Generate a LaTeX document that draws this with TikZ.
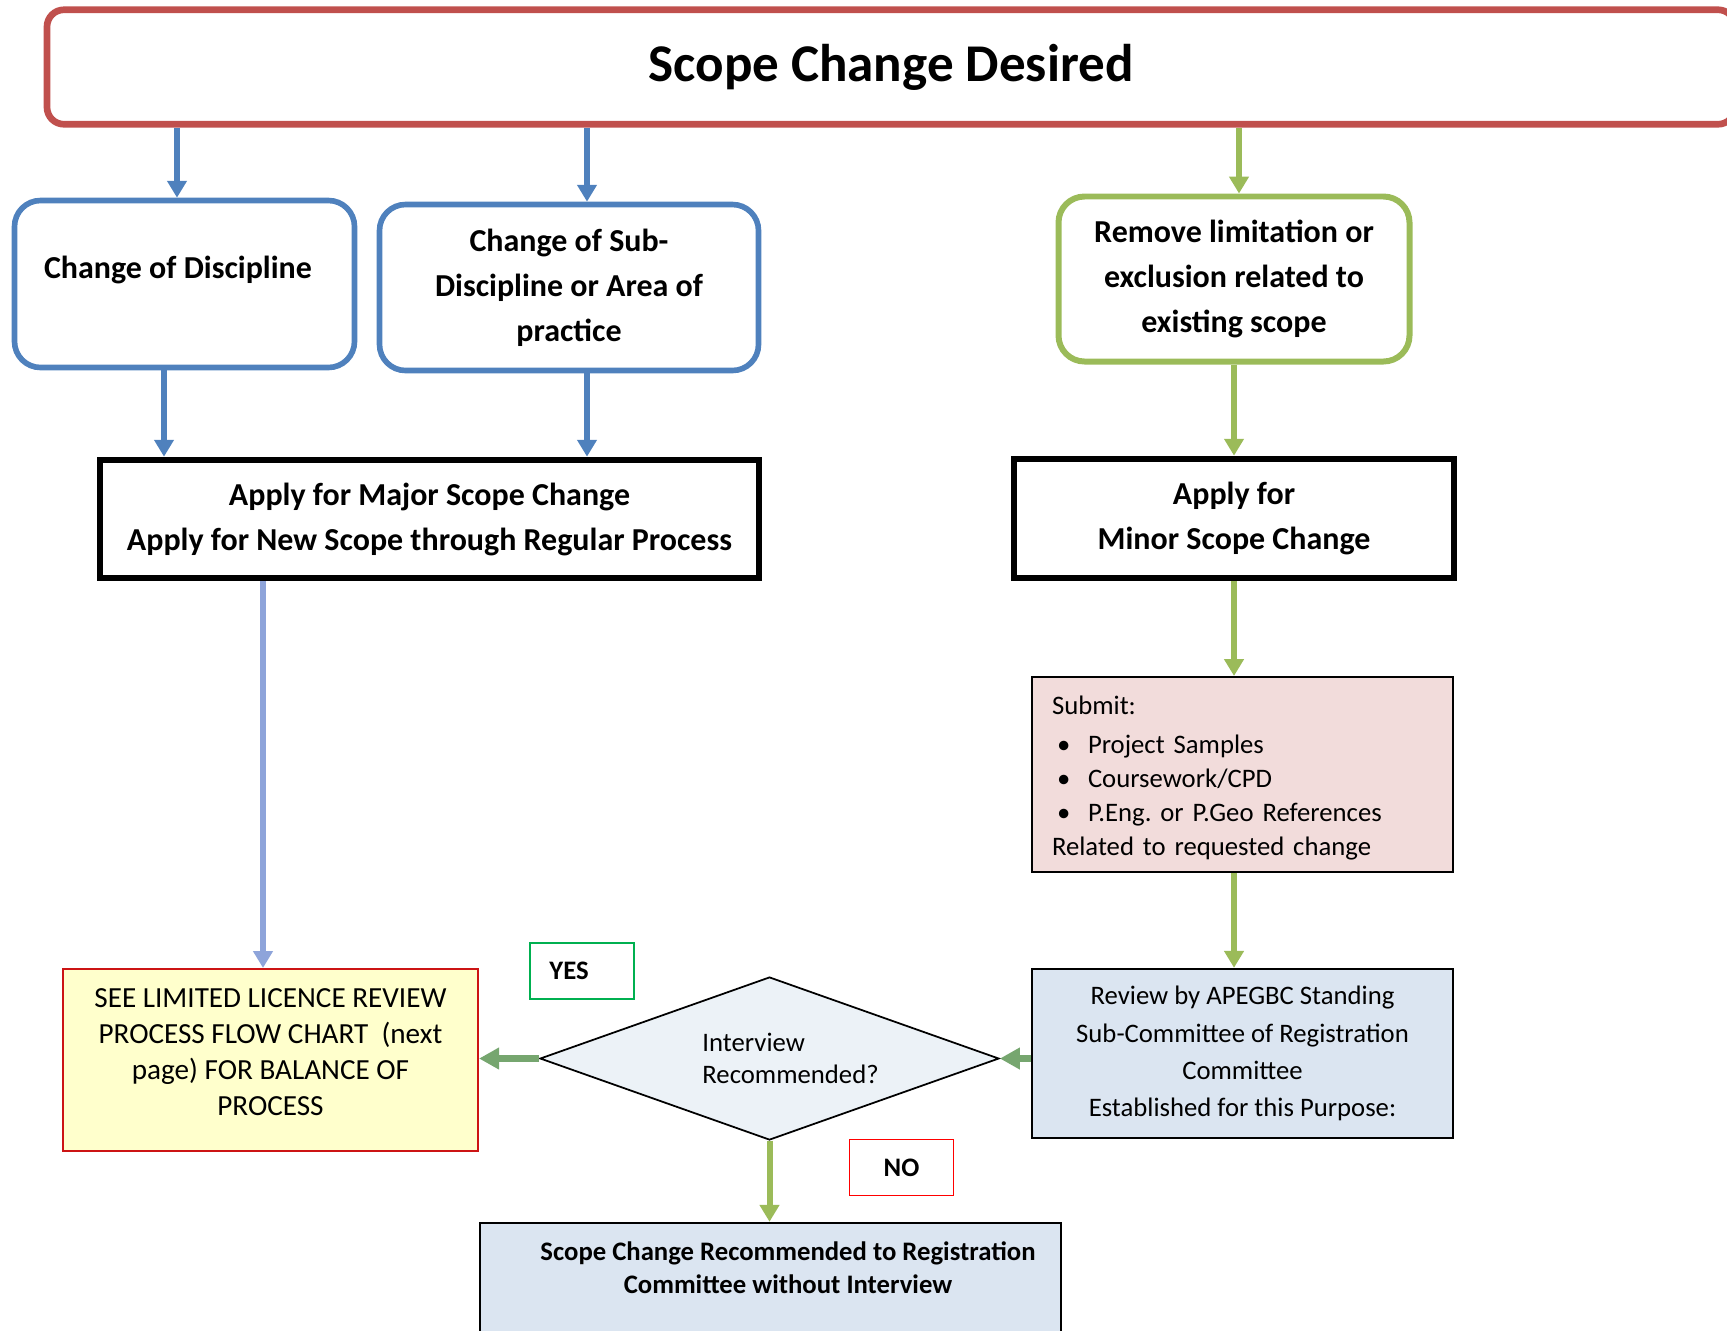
\documentclass[tikz,border=0pt]{standalone}
\usepackage{fontspec}
\setmainfont{Carlito}
\usepackage{tikz}
\usetikzlibrary{arrows.meta, positioning, calc, shapes.geometric}
\usepackage{xcolor}
\definecolor{titlered}{RGB}{192,80,77}
\definecolor{pathblue}{RGB}{79,129,189}
\definecolor{pathgreen}{RGB}{155,187,89}
\definecolor{majorblue}{RGB}{142,164,218}
\definecolor{decisiongreen}{RGB}{118,166,111}
\definecolor{submitpink}{RGB}{242,220,219}
\definecolor{reviewblue}{RGB}{219,229,241}
\definecolor{noteyellow}{RGB}{255,255,204}
\definecolor{noteborder}{RGB}{204,20,20}
\definecolor{questionfill}{RGB}{236,242,247}
\definecolor{yesgreen}{RGB}{0,176,80}
\newcommand{\submititem}[1]{\makebox[0.36cm][l]{\hspace{0.05cm}\textbullet}#1}
\frenchspacing

\begin{document}
\begin{tikzpicture}[
  bigfont/.style={font=\fontsize{9.1}{12.8}\selectfont\bfseries},
  roundbox/.style={draw, line width=1.6pt, rounded corners=0.26cm, align=center, bigfont},
  applybox/.style={draw=black, line width=1.9pt, align=center, bigfont},
  infobox/.style={draw=black, line width=0.7pt},
  flow/.style={line width=1.7pt, -{Triangle[length=4.8pt,width=5.4pt]}},
  thickflow/.style={decisiongreen, line width=2pt, -{Triangle[length=5.7pt,width=5.9pt]}},
  tagbox/.style={draw, line width=0.5pt, minimum width=1.04cm, minimum height=0.56cm, font=\fontsize{7.6}{9}\selectfont\bfseries}
]
  \useasboundingbox (0,0) rectangle (17.27,-13.30);
  \clip (0,0) rectangle (17.27,-13.30);

  % top row
  \node[draw=titlered, line width=1.9pt, rounded corners=0.17cm, minimum width=16.88cm, minimum height=1.145cm,
        font=\fontsize{15.1}{18}\selectfont\bfseries] (desired) at (8.91,-0.67) {Scope Change Desired};

  \node[roundbox, draw=pathblue, minimum width=3.40cm, minimum height=1.67cm, text depth=9.7pt] (discipline) at (1.845,-2.84) {Change of Discipline\hspace*{0.13cm}};
  \node[roundbox, draw=pathblue, minimum width=3.79cm, minimum height=1.66cm] (subdiscipline) at (5.69,-2.875) {Change of Sub-\\Discipline or Area of\\practice};
  \node[roundbox, draw=pathgreen, line width=1.7pt, minimum width=3.51cm, minimum height=1.65cm] (remove) at (12.34,-2.79) {Remove limitation or\\exclusion related to\\existing scope};

  \node[applybox, minimum width=6.59cm, minimum height=1.18cm] (major) at (4.295,-5.19) {Apply for Major Scope Change\\Apply for New Scope through Regular Process};
  \node[applybox, minimum width=4.40cm, minimum height=1.19cm] (minor) at (12.34,-5.185) {Apply for\\Minor Scope Change};

  % minor path
  \node[infobox, fill=submitpink, minimum width=4.21cm, minimum height=1.93cm, text width=3.81cm, align=left, text height=7.2pt,
        font=\fontsize{7.6}{9.7}\selectfont] (submit) at (12.425,-7.745)
       {Submit:\\[1.4pt] \submititem{Project Samples}\\ \submititem{Coursework/CPD}\\ \submititem{P.Eng. or P.Geo References}\\Related to requested change};
  \node[infobox, fill=reviewblue, minimum width=4.21cm, minimum height=1.69cm, align=center,
        font=\fontsize{7.6}{10.6}\selectfont] (review) at (12.425,-10.535)
       {Review by APEGBC Standing\\Sub-Committee of Registration\\Committee\\Established for this Purpose:};

  \node[diamond, aspect=2.816, draw=black, line width=0.5pt, fill=questionfill, minimum width=4.59cm, minimum height=1.63cm,
        inner sep=0pt, align=left, font=\fontsize{7.6}{9.1}\selectfont] (interview) at (7.695,-10.585)
       {\hspace*{0.42cm}Interview\\\hspace*{0.42cm}Recommended?};

  \node[infobox, draw=noteborder, fill=noteyellow, line width=0.6pt, minimum width=4.15cm, minimum height=1.82cm, align=center,
        text depth=4.6pt, font=\fontsize{8.3}{10.2}\selectfont] (limited) at (2.705,-10.60)
       {SEE LIMITED LICENCE REVIEW\\PROCESS FLOW CHART\ \ (next\\page) FOR BALANCE OF\\PROCESS};

  \node[tagbox, draw=yesgreen] (yes) at (5.82,-9.71) {YES\hspace*{0.26cm}};
  \node[tagbox, draw=red] (no) at (9.015,-11.675) {NO};

  \node[infobox, fill=reviewblue, minimum width=5.81cm, minimum height=1.77cm] (endbox) at (7.705,-13.115) {};
  \node[align=center, font=\fontsize{7.6}{9.4}\selectfont\bfseries] (endtext) at (7.88,-12.675)
       {Scope Change Recommended to Registration\\Committee without Interview};

  % connectors
  \draw[flow, pathblue] (desired.south -| 1.77,0) -- (discipline.north -| 1.77,0);
  \draw[flow, pathblue] (desired.south -| 5.87,0) -- (subdiscipline.north -| 5.87,0);
  \draw[flow, pathgreen] (desired.south -| 12.39,0) -- (remove.north -| 12.39,0);
  \draw[flow, pathblue] (discipline.south -| 1.64,0) -- (major.north -| 1.64,0);
  \draw[flow, pathblue] (subdiscipline.south -| 5.87,0) -- (major.north -| 5.87,0);
  \draw[flow, pathgreen] (remove.south) -- (minor.north);
  \draw[flow, majorblue] (major.south -| 2.63,0) -- (limited.north -| 2.63,0);
  \draw[flow, pathgreen] (minor.south) -- (submit.north -| minor.south);
  \draw[flow, pathgreen] (submit.south -| minor.south) -- (review.north -| minor.south);
  \draw[thickflow] (review.west |- interview.east) -- (interview.east);
  \draw[thickflow] (interview.west) -- (limited.east |- interview.west);
  \draw[flow, pathgreen] (interview.south) -- (endbox.north -| interview.south);
\end{tikzpicture}
\end{document}
